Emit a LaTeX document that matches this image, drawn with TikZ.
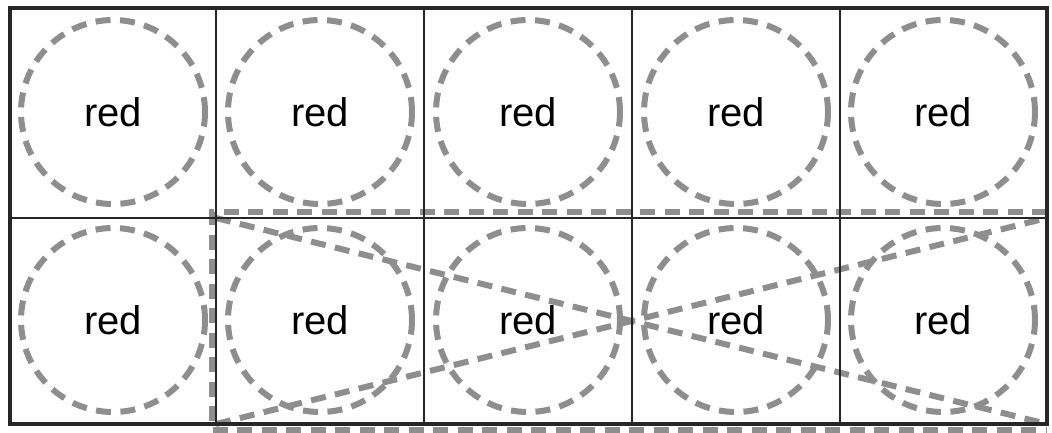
\documentclass[tikz,border=0pt]{standalone}
\usepackage{fontspec}
\setmainfont{Liberation Sans}
\definecolor{dgray}{HTML}{8E8E8E}
\begin{document}
\begin{tikzpicture}[x=1pt,y=-1pt,
  dashline/.style={draw=dgray,line width=6pt,dash pattern=on 15pt off 9.5pt},
  ring/.style={circle,dashline,minimum size=184pt,inner sep=0pt,font=\fontsize{40}{40}\selectfont},
  thin/.style={line width=1.8pt,black!85},
  thick/.style={line width=4pt,black!85}]
\useasboundingbox (0,0) rectangle (1052,433);
% cells
\foreach \c/\x in {1/113,2/320,3/528,4/736,5/943}{
  \node[ring] (t\c) at (\x,112) {red};
  \node[ring] (b\c) at (\x,320) {red};
}
% grid corner coordinates
\coordinate (tl) at (10,8);
\coordinate (br) at (1047,424);
\coordinate (ml) at (216,218);
\coordinate (mr) at (1047,218);
\coordinate (bl) at (216,424);
% dashed frame and bow-tie
\coordinate (d1) at (1047,212);
\coordinate (d2) at (212,212);
\coordinate (d3) at (212,430);
\coordinate (d4) at (1047,430);
\draw[dashline] (d1) -- (d2) -- (d3) -- (d4);
\draw[dashline] (ml) -- (br);
\draw[dashline] (bl) -- (mr);
% grid
\draw[thin] (10,218) -- (mr);
\foreach \x in {216,424,632,840}{\draw[thin] (\x,8) -- (\x,424);}
\draw[thick] (tl) rectangle (br);
\end{tikzpicture}
\end{document}
